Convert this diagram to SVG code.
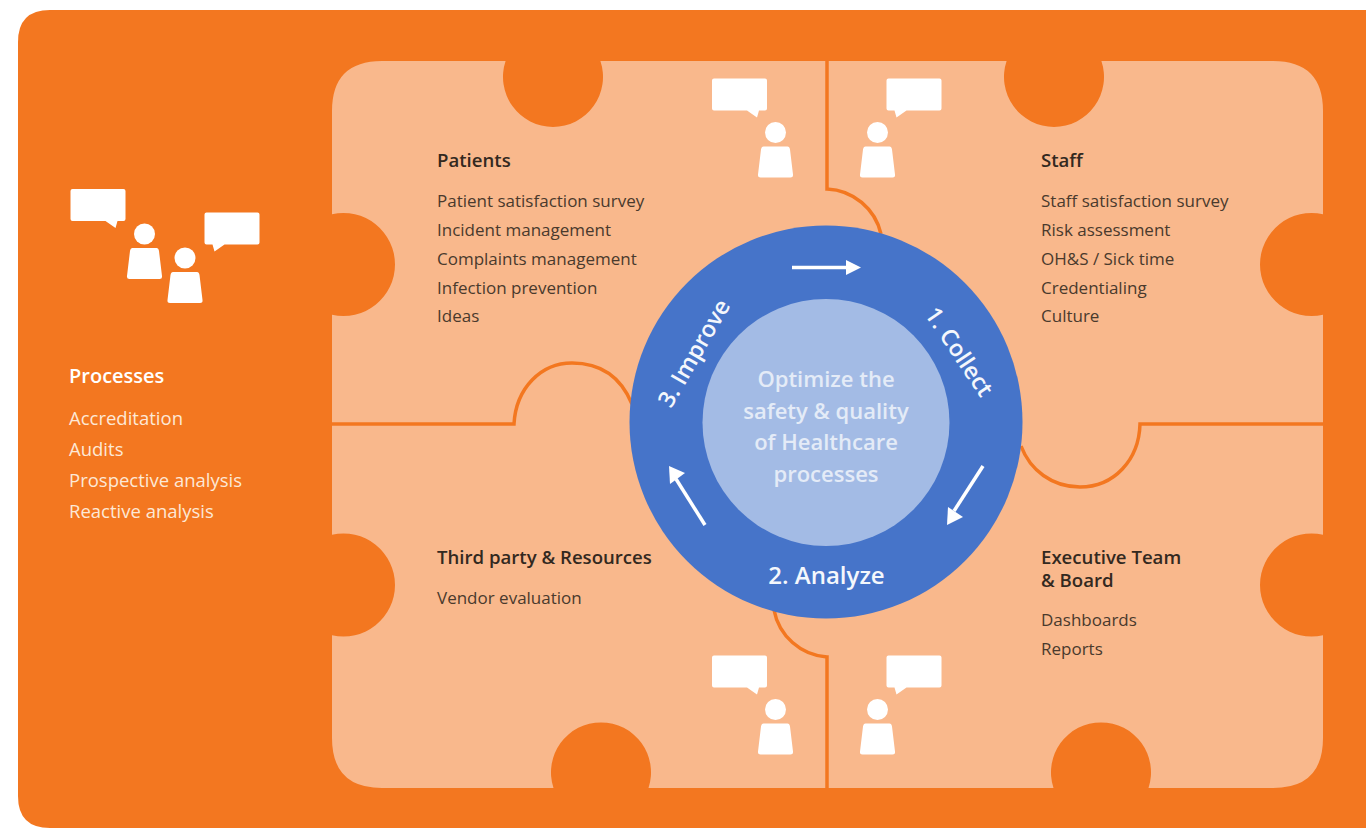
<svg xmlns="http://www.w3.org/2000/svg" width="1366" height="828" viewBox="0 0 1366 828">
<style>
text{font-family:"Open Sans","Noto Sans",sans-serif}
.h{font-size:18.600px;font-weight:600;fill:#33291f}
.t{font-size:17px;fill:#4a3a2d}
.w{fill:#fff}
.wh{font-size:20px;font-weight:600;fill:#fff}
.wt{font-size:18.500px;fill:#fde8d6}
.c{font-size:22px;fill:#e4ebf7;text-anchor:middle;font-weight:600}
.r{font-size:24px;fill:#f4f7fc;font-weight:600}
.r2{font-size:23.300px;fill:#f4f7fc;font-weight:600}
.seam{fill:none;stroke:#f37720;stroke-width:3.500}
.arr{fill:none;stroke:#fff;stroke-width:3.500}
</style>
<defs>
<g id="person"><circle cx="0" cy="0" r="10.500" class="w"/><path d="M-12 14H12Q14 14 14.500 17L17.500 42Q18 45 15 45H-15Q-18 45 -17.500 42L-14.500 17Q-14 14 -12 14Z" class="w"/></g>
<path id="bubL" d="M2 0H53Q55 0 55 2V30Q55 32 53 32H47L45 39L35 32H2Q0 32 0 30V2Q0 0 2 0Z" class="w"/>
<path id="bubR" d="M2 0H53Q55 0 55 2V30Q55 32 53 32H20L10 39L8 32H2Q0 32 0 30V2Q0 0 2 0Z" class="w"/>
</defs>
<rect width="1366" height="828" fill="#fff"/>
<path id="bg" d="M50 10H1366V828H50Q18 828 18 796V42Q18 10 50 10Z" fill="#f37720"/>
<g id="board">
<path d="M382 61H505.600A50 50 0 1 0 600.400 61H1006.600A50 50 0 1 0 1101.400 61H1273Q1323 61 1323 111V214.300A51.500 51.500 0 1 0 1323 314.700V534.800A51.500 51.500 0 1 0 1323 635.200V738Q1323 788 1273 788H1148.500A50 50 0 1 0 1053.500 788H648.500A50 50 0 1 0 553.500 788H382Q332 788 332 738V635.200A51.500 51.500 0 1 0 332 534.800V314.700A51.500 51.500 0 1 0 332 214.300V111Q332 61 382 61Z" fill="#f9b88c"/>
</g>
<g id="connectors">
<path class="seam" d="M827 61V189A58 58 0 0 1 881 234"/>
<path class="seam" d="M827 788V657A58 58 0 0 1 774 610"/>
<path class="seam" d="M332 424H514C516 388 541 363 572 363C598 363 620 375 632 404"/>
<path class="seam" d="M1323 424H1140C1139 460 1114 487 1080 487C1052 487 1030 470 1021 446"/>
</g>
<g id="left-panel">
<use href="#bubL" x="70.500" y="189"/><use href="#bubR" x="204.500" y="212.500"/>
<use href="#person" x="144.500" y="234"/><use href="#person" x="185" y="258"/>
<text class="wh" x="69" y="383">Processes</text>
<text class="wt" x="69" y="425">Accreditation</text>
<text class="wt" x="69" y="456">Audits</text>
<text class="wt" x="69" y="487">Prospective analysis</text>
<text class="wt" x="69" y="518">Reactive analysis</text>
</g>
<g id="patients">
<use href="#bubL" x="712" y="78.500"/><use href="#person" x="775.500" y="132.500"/>
<text class="h" x="437" y="167">Patients</text>
<text class="t" x="437" y="207">Patient satisfaction survey</text>
<text class="t" x="437" y="236">Incident management</text>
<text class="t" x="437" y="265">Complaints management</text>
<text class="t" x="437" y="294">Infection prevention</text>
<text class="t" x="437" y="322">Ideas</text>
</g>
<g id="staff">
<use href="#bubR" x="886.500" y="78.500"/><use href="#person" x="877.500" y="132.500"/>
<text class="h" x="1041" y="167">Staff</text>
<text class="t" x="1041" y="207">Staff satisfaction survey</text>
<text class="t" x="1041" y="236">Risk assessment</text>
<text class="t" x="1041" y="265">OH&amp;S / Sick time</text>
<text class="t" x="1041" y="294">Credentialing</text>
<text class="t" x="1041" y="322">Culture</text>
</g>
<g id="third-party">
<use href="#bubL" x="712" y="655.500"/><use href="#person" x="775.500" y="709.500"/>
<text class="h" x="437" y="564">Third party &amp; Resources</text>
<text class="t" x="437" y="604">Vendor evaluation</text>
</g>
<g id="executive">
<use href="#bubR" x="886.500" y="655.500"/><use href="#person" x="877.500" y="709.500"/>
<text class="h" x="1041" y="564"><tspan x="1041" y="564">Executive Team</tspan><tspan x="1041" y="586.500">&amp; Board</tspan></text>
<text class="t" x="1041" y="626">Dashboards</text>
<text class="t" x="1041" y="655">Reports</text>
</g>
<g id="cycle">
<circle cx="826" cy="422" r="196.500" fill="#4674c9"/>
<circle cx="826" cy="422.500" r="123.500" fill="#a3bbe5"/>
<text class="c" x="826" y="387">Optimize the</text>
<text class="c" x="826" y="418.500">safety &amp; quality</text>
<text class="c" x="826" y="450">of Healthcare</text>
<text class="c" x="826" y="481.500">processes</text>
<text class="r2" transform="translate(924 314) rotate(56)">1. Collect</text>
<text class="r" text-anchor="middle" x="826.500" y="584">2. Analyze</text>
<text class="r2" transform="translate(671 409) rotate(-60)">3. Improve</text>
<path class="arr" d="M792 267.500H850"/><path class="w" d="M846 260L861 267.500L846 275Z"/>
<path class="arr" d="M983 466L954 511"/><path class="w" d="M948 507L947 525L963 517Z"/>
<path class="arr" d="M705 525L676 479"/><path class="w" d="M670 484L669 466L685 473Z"/>
</g>
</svg>
